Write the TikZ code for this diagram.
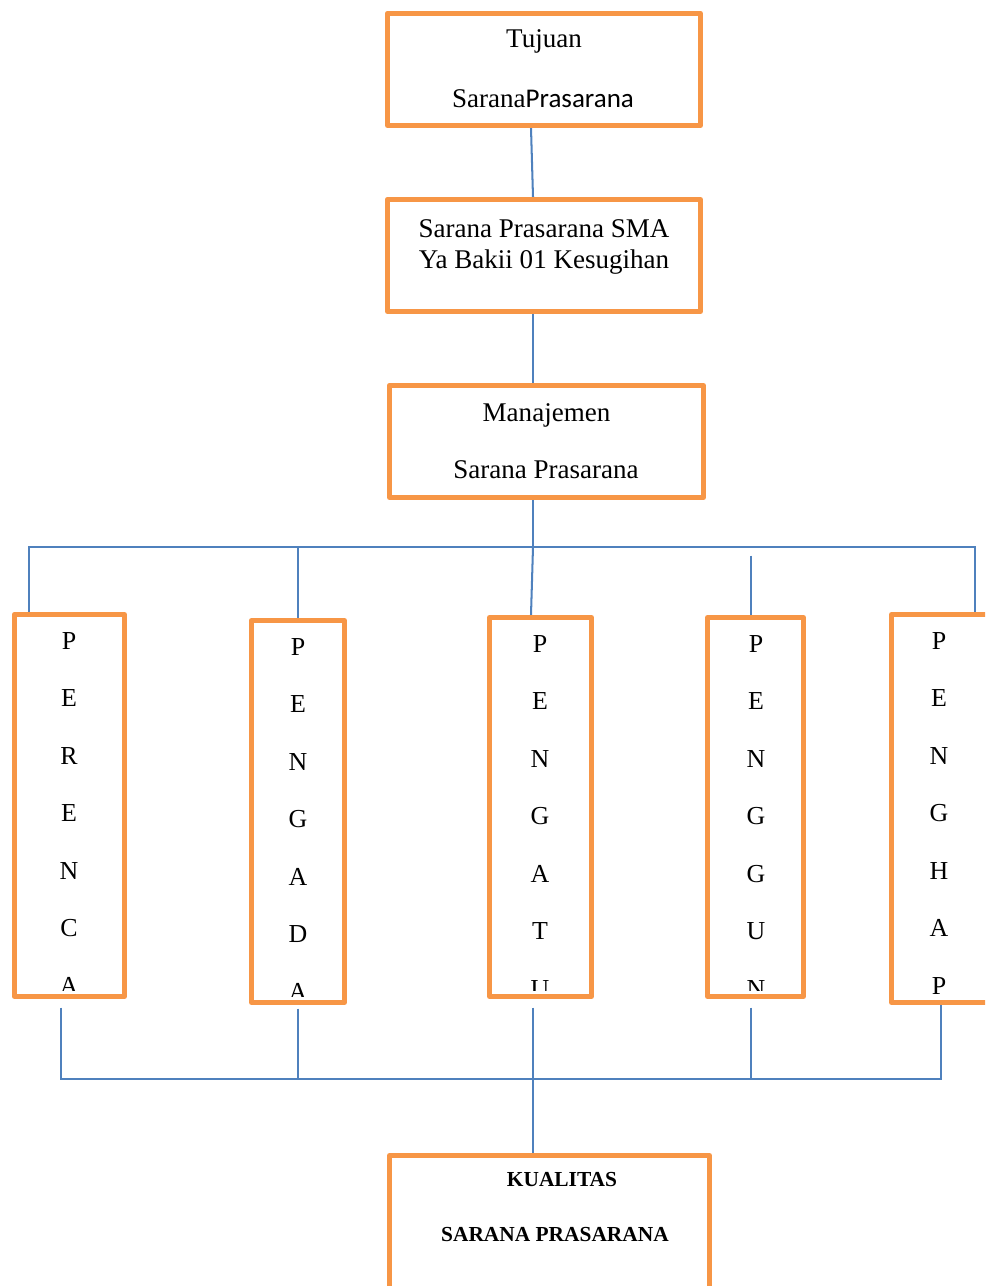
\documentclass[tikz,border=0pt]{standalone}
\usepackage{fontspec}
\setmainfont{Liberation Serif}
\newfontfamily\calibri{Carlito}
\usepackage{xcolor}
\usetikzlibrary{calc,backgrounds}
\definecolor{boxorange}{HTML}{F79646}
\definecolor{lineblue}{HTML}{4F81BD}
\newlength\pxu
\setlength\pxu{0.444pt}

\begin{document}
\begin{tikzpicture}[x=0.444pt, y=-0.444pt]
\tikzset{BoxStyle/.style = {draw=boxorange, line width=2.3pt, line join=round, fill=white, inner sep=0pt}}
\tikzset{TextStyle/.style = {anchor=base, inner sep=0pt, font=\fontsize{12}{14}\selectfont}}
\tikzset{LetterStyle/.style = {anchor=base, inner sep=0pt, font=\fontsize{11.5}{14}\selectfont}}
\tikzset{BoldStyle/.style = {anchor=base, inner sep=0pt, font=\fontsize{9.5}{11}\selectfont\bfseries}}
\tikzset{LinkStyle/.style = {draw=lineblue, line width=0.9pt}}
\tikzset{GapStyle/.style = {shorten <=3.8pt}}

  \useasboundingbox (0,0) rectangle (985,1286);
  \clip (0,0) rectangle (985,1286);

  % top boxes
  \node[BoxStyle, minimum width=313*\pxu, minimum height=112*\pxu] (tujuan) at (544,69.5) {};
  \node[TextStyle] (tujuan-1) at (544,48) {Tujuan};
  \node[TextStyle] (tujuan-2) at (543,108) {Sarana{\calibri Prasarana}};

  \node[BoxStyle, minimum width=313*\pxu, minimum height=112*\pxu] (sarpras) at (544,255.5) {};
  \node[TextStyle] (sarpras-1) at (544,237) {Sarana Prasarana SMA};
  \node[TextStyle] (sarpras-2) at (544,268) {Ya Bakii 01 Kesugihan};

  \node[BoxStyle, minimum width=314*\pxu, minimum height=112*\pxu] (manajemen) at (546.5,441.5) {};
  \node[TextStyle] (manajemen-1) at (546.5,421) {Manajemen};
  \node[TextStyle] (manajemen-2) at (546,478) {Sarana Prasarana};

  % vertical boxes
  \node[BoxStyle, minimum width=110*\pxu, minimum height=382*\pxu] (perencanaan) at (69.5,805.5) {};
  \begin{scope}
    \clip (perencanaan.north west) rectangle ($(perencanaan.south east)+(0,-8.5)$);
    \foreach \lt [count=\i from 0] in {P,E,R,E,N,C,A}
      \node[LetterStyle] (perencanaan-\i) at (69,{649+57.5*\i}) {\lt};
  \end{scope}

  \node[BoxStyle, minimum width=93*\pxu, minimum height=382*\pxu] (pengadaan) at (298,811.5) {};
  \begin{scope}
    \clip (pengadaan.north west) rectangle ($(pengadaan.south east)+(0,-8.5)$);
    \foreach \lt [count=\i from 0] in {P,E,N,G,A,D,A}
      \node[LetterStyle] (pengadaan-\i) at (298,{655+57.5*\i}) {\lt};
  \end{scope}

  \node[BoxStyle, minimum width=102*\pxu, minimum height=379*\pxu] (pengaturan) at (540.5,807) {};
  \begin{scope}
    \clip (pengaturan.north west) rectangle ($(pengaturan.south east)+(0,-8.5)$);
    \foreach \lt [count=\i from 0] in {P,E,N,G,A,T,U}
      \node[LetterStyle] (pengaturan-\i) at (540,{652+57.5*\i}) {\lt};
  \end{scope}

  \node[BoxStyle, minimum width=96*\pxu, minimum height=379*\pxu] (penggunaan) at (755.5,807) {};
  \begin{scope}
    \clip (penggunaan.north west) rectangle ($(penggunaan.south east)+(0,-8.5)$);
    \foreach \lt [count=\i from 0] in {P,E,N,G,G,U,N}
      \node[LetterStyle] (penggunaan-\i) at (756,{652+57.5*\i}) {\lt};
  \end{scope}

  \node[BoxStyle, minimum width=98.5*\pxu, minimum height=388*\pxu] (penghapusan) at (940.75,808.5) {};
  \foreach \lt [count=\i from 0] in {P,E,N,G,H,A,P}
    \node[LetterStyle] (penghapusan-\i) at (939,{649+57.5*\i}) {\lt};

  % bottom box
  \node[BoxStyle, minimum width=320*\pxu, minimum height=144.5*\pxu] (kualitas) at (549.5,1227.75) {};
  \node[BoldStyle] (kualitas-1) at (562,1186) {KUALITAS};
  \node[BoldStyle] (kualitas-2) at (555,1241) {SARANA PRASARANA};

  % connectors
  \begin{scope}[on background layer]
    \coordinate (busL) at (29,547);
    \coordinate (busM) at (533,547);
    \coordinate (busR) at (975,547);
    \coordinate (busB) at (533,1079);
    \draw[LinkStyle] ($(tujuan.south)+(-13,0)$) -- ($(sarpras.north)+(-11,0)$);
    \draw[LinkStyle] ($(sarpras.south)+(-11,0)$) -- ($(manajemen.north)+(-13.5,0)$);
    \draw[LinkStyle] ($(manajemen.south)+(-13.5,0)$) -- (busM);
    \draw[LinkStyle] (busL |- perencanaan.north) -- (busL) -- (busR) -- (busR |- penghapusan.north);
    \draw[LinkStyle] (pengadaan.north |- busM) -- (pengadaan.north);
    \draw[LinkStyle] (busM) -- ($(pengaturan.north)+(-9.5,0)$);
    \coordinate (p4) at ($(penggunaan.north)+(-4.5,0)$);
    \draw[LinkStyle, GapStyle] (p4 |- busM) -- (p4);

    \coordinate (q1) at ($(perencanaan.south)+(-8.5,0)$);
    \coordinate (q3) at ($(pengaturan.south)+(-7.5,0)$);
    \coordinate (q4) at ($(penggunaan.south)+(-4.5,0)$);
    \draw[LinkStyle, GapStyle] (q1) -- (q1 |- busB) -- (penghapusan.south |- busB) -- (penghapusan.south);
    \draw[LinkStyle, shorten <=1.6pt] (pengadaan.south) -- (pengadaan.south |- busB);
    \draw[LinkStyle, GapStyle] (q3) -- (q3 |- kualitas.north);
    \draw[LinkStyle, GapStyle] (q4) -- (q4 |- busB);
  \end{scope}
\end{tikzpicture}
\end{document}
